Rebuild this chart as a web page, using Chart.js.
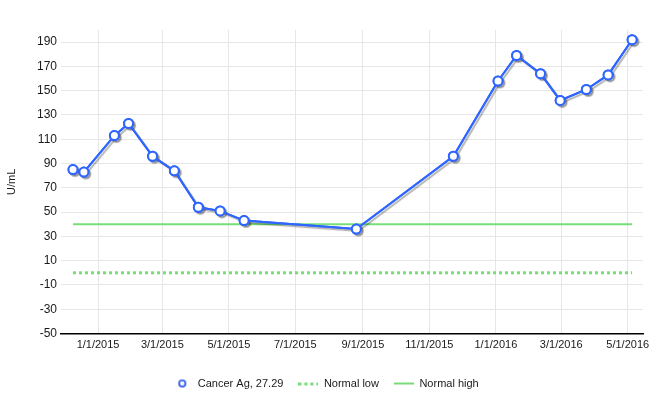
<!DOCTYPE html>
<html>
<head>
<meta charset="utf-8">
<script src="https://cdn.jsdelivr.net/npm/chart.js@4.4.1/dist/chart.umd.min.js"></script>
<style>
  html, body { margin: 0; padding: 0; background: #ffffff; }
  #wrap { width: 664px; height: 394px; }
</style>
</head>
<body>
<div id="wrap"><canvas id="c" width="664" height="394"></canvas></div>
<script>
// ---- data ----
const sampleDates = [
  '2014-12-09','2014-12-19','2015-01-16','2015-01-29','2015-02-20','2015-03-12',
  '2015-04-03','2015-04-23','2015-05-15','2015-08-26','2015-11-23','2016-01-03',
  '2016-01-20','2016-02-11','2016-02-29','2016-03-24','2016-04-13','2016-05-05'
];
const cancerAgValues = [85, 83, 113, 123, 96, 84, 54, 51, 43, 36, 96, 158, 179, 164, 142, 151, 163, 192];
const normalLowValues = [0, 0];
const normalHighValues = [40, 40];
const xTickDates = ['2015-01-01','2015-03-01','2015-05-01','2015-07-01','2015-09-01','2015-11-01','2016-01-01','2016-03-01','2016-05-01'];
const yTickValues = [-50, -30, -10, 10, 30, 50, 70, 90, 110, 130, 150, 170, 190];
const xRange = ['2014-11-28', '2016-05-15'];
const yRange = [-50, 200];
const seriesNames = ['Cancer Ag, 27.29', 'Normal low', 'Normal high'];
const yAxisTitle = 'U/mL';

// ---- helpers ----
const ts = s => Date.parse(s + 'T00:00:00Z');
const fmtDate = v => { const d = new Date(v); return (d.getUTCMonth() + 1) + '/' + d.getUTCDate() + '/' + d.getUTCFullYear(); };

const BLUE = '#2f66ff';
const GREEN = '#77dd77';
const FONT = '"Liberation Sans", Arial, sans-serif';

const firstX = ts(sampleDates[0]);
const lastX = ts(sampleDates[sampleDates.length - 1]);

function markerCanvas(kind) {
  const c = document.createElement('canvas');
  c.width = 20; c.height = 10;
  const g = c.getContext('2d');
  if (kind === 'circle') {
    const grad = g.createRadialGradient(9.5, 4.5, 0.5, 10, 5, 3.5);
    grad.addColorStop(0, '#ffffff');
    grad.addColorStop(1, '#d0dcff');
    g.beginPath(); g.arc(10, 5, 3.2, 0, Math.PI * 2);
    g.fillStyle = grad; g.fill();
    g.lineWidth = 1.6; g.strokeStyle = '#2a55e8'; g.stroke();
  } else if (kind === 'dotted') {
    g.fillStyle = GREEN;
    for (let x = 0; x < 20; x += 6) g.fillRect(x, 4, 3, 3);
  } else {
    g.fillStyle = GREEN;
    g.fillRect(0, 4, 20, 2);
  }
  return c;
}
const legendMarkers = [markerCanvas('circle'), markerCanvas('dotted'), markerCanvas('solid')];

// soft drop shadow under the main series (drawn first, then the normal draw covers it)
const shadowPlugin = {
  id: 'lineShadow',
  beforeDatasetDraw(chart, args) {
    if (args.index !== 0) return;
    const ctx = chart.ctx;
    const meta = args.meta;
    ctx.save();
    ctx.shadowColor = 'rgba(0,0,0,0.3)';
    ctx.shadowOffsetX = 2;
    ctx.shadowOffsetY = 2;
    ctx.shadowBlur = 1;
    meta.dataset.draw(ctx, chart.chartArea);
    meta.data.forEach(p => p.draw(ctx, chart.chartArea));
    ctx.restore();
  },
  afterLayout(chart) {
    const lg = chart.legend;
    if (lg) { lg.left += 4; lg.right += 4; }
  }
};

new Chart(document.getElementById('c'), {
  type: 'line',
  data: {
    datasets: [
      {
        label: seriesNames[0],
        data: sampleDates.map((d, i) => ({ x: ts(d), y: cancerAgValues[i] })),
        borderColor: BLUE,
        borderWidth: 2,
        pointRadius: 4.5,
        pointBorderWidth: 2,
        pointBackgroundColor: '#ffffff',
        pointBorderColor: BLUE,
        tension: 0,
        fill: false
      },
      {
        label: seriesNames[1],
        data: [{ x: firstX, y: normalLowValues[0] }, { x: lastX, y: normalLowValues[1] }],
        borderColor: GREEN,
        borderWidth: 3,
        borderDash: [3, 3],
        pointRadius: 0,
        fill: false
      },
      {
        label: seriesNames[2],
        data: [{ x: firstX, y: normalHighValues[0] }, { x: lastX, y: normalHighValues[1] }],
        borderColor: GREEN,
        borderWidth: 2,
        pointRadius: 0,
        fill: false
      }
    ]
  },
  options: {
    responsive: false,
    animation: false,
    events: [],
    layout: { padding: { left: 0, right: 21, top: 30, bottom: -5 } },
    scales: {
      x: {
        type: 'linear',
        min: ts(xRange[0]),
        max: ts(xRange[1]),
        afterBuildTicks(scale) { scale.ticks = xTickDates.map(d => ({ value: ts(d) })); },
        afterFit(scale) { scale.height = 29.5; },
        ticks: {
          autoSkip: false, maxRotation: 0, minRotation: 0,
          padding: 5,
          color: '#1a1a1a',
          font: { family: FONT, size: 11 },
          callback: v => fmtDate(v)
        },
        grid: { color: '#e6e6e6', lineWidth: 1, drawTicks: false },
        border: { display: true, color: '#000000', width: 1.5 }
      },
      y: {
        type: 'linear',
        min: yRange[0],
        max: yRange[1],
        afterBuildTicks(scale) { scale.ticks = yTickValues.map(v => ({ value: v })); },
        afterFit(scale) { scale.width = 61; },
        ticks: {
          padding: 4,
          color: '#1a1a1a',
          font: { family: FONT, size: 12 }
        },
        grid: { color: '#e6e6e6', lineWidth: 1, drawTicks: false },
        border: { display: false },
        title: {
          display: true,
          text: yAxisTitle,
          color: '#1a1a1a',
          font: { family: FONT, size: 11 },
          padding: { top: 5, bottom: 0 }
        }
      }
    },
    plugins: {
      tooltip: { enabled: false },
      legend: {
        display: true,
        position: 'bottom',
        labels: {
          usePointStyle: true,
          pointStyleWidth: 20,
          boxHeight: 10,
          padding: 15,
          color: '#1a1a1a',
          font: { family: FONT, size: 11 },
          generateLabels: chart => chart.data.datasets.map((ds, i) => ({
            text: ds.label,
            pointStyle: legendMarkers[i],
            fillStyle: 'rgba(0,0,0,0)',
            strokeStyle: 'rgba(0,0,0,0)',
            lineWidth: 0,
            hidden: false,
            datasetIndex: i,
            fontColor: '#1a1a1a'
          }))
        }
      }
    }
  },
  plugins: [shadowPlugin]
});
</script>
</body>
</html>
